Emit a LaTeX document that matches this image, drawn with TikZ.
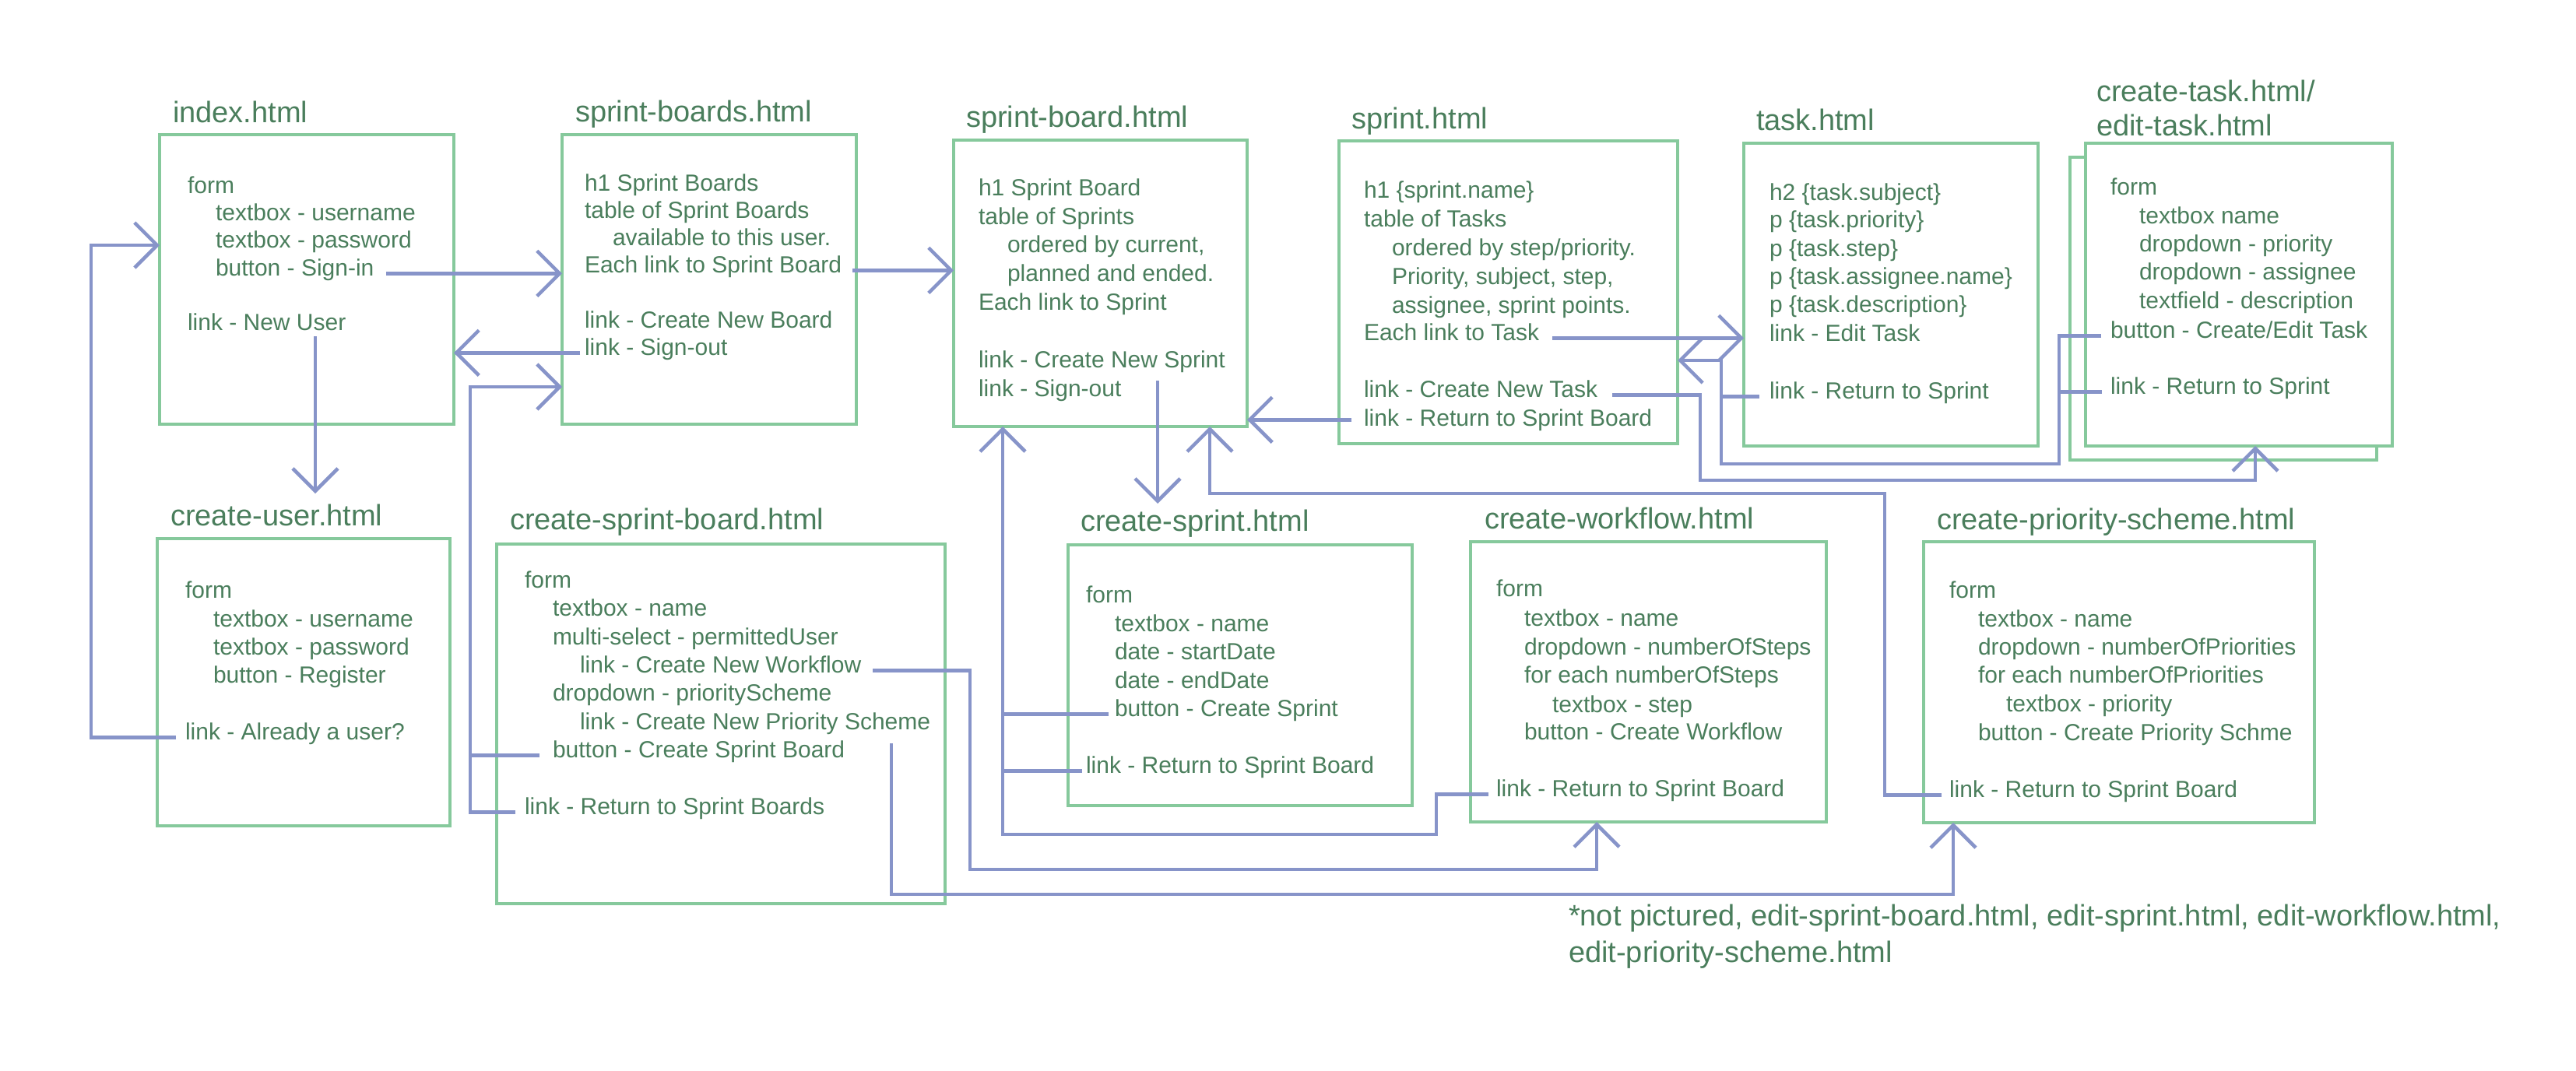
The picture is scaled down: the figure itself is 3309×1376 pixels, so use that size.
\documentclass[tikz,border=0pt]{standalone}
\usepackage{fontspec}
\setmainfont{Liberation Sans}
\usetikzlibrary{arrows.meta}
\definecolor{txtc}{HTML}{4A7E5C}
\definecolor{boxc}{HTML}{86C99C}
\definecolor{arrc}{HTML}{8794C9}
\tikzset{
  txt/.style={anchor=base west, inner sep=0pt, outer sep=0pt, text=txtc, font=\fontsize{30}{36}\selectfont},
  ttl/.style={anchor=base west, inner sep=0pt, outer sep=0pt, text=txtc, font=\fontsize{38}{45}\selectfont},
  pagebox/.style={draw=boxc, line width=4pt, fill=white, inner sep=0pt, outer sep=0pt, anchor=north west},
  ln/.style={draw=arrc, line width=4.5pt},
  arr/.style={ln, -{Straight Barb[length=29pt,width=58pt]}},
}
\begin{document}
\begin{tikzpicture}[x=1pt,y=-1pt]
\useasboundingbox (0,0) rectangle (3309,1376);
\fill[white] (0,0) rectangle (3309,1376);

% ---------- boxes ----------
\node[pagebox, minimum width=378pt, minimum height=372pt] (idxbox) at (205,173) {};
\node[pagebox, minimum width=378pt, minimum height=372pt] (sbsbox) at (722,173) {};
\node[pagebox, minimum width=377pt, minimum height=368pt] (sbbox) at (1225,180) {};
\node[pagebox, minimum width=435pt, minimum height=389pt] (spbox) at (1720,181) {};
\node[pagebox, minimum width=378pt, minimum height=389pt] (taskbox) at (2240,184) {};
\node[pagebox, minimum width=394pt, minimum height=389pt] (ctback) at (2659,202) {};
\node[pagebox, minimum width=394pt, minimum height=389pt] (ctbox) at (2679,184) {};
\node[pagebox, minimum width=376pt, minimum height=369pt] (cubox) at (202,692) {};
\node[pagebox, minimum width=576pt, minimum height=462pt] (csbbox) at (638,699) {};
\node[pagebox, minimum width=442pt, minimum height=335pt] (csbox) at (1372,700) {};
\node[pagebox, minimum width=457pt, minimum height=360pt] (cwbox) at (1889,696) {};
\node[pagebox, minimum width=502pt, minimum height=361pt] (cpsbox) at (2471,696) {};

% ---------- titles ----------
\node[ttl] (tidx) at (222,157) {index.html};
\node[ttl] (tsbs) at (739,156) {sprint-boards.html};
\node[ttl] (tsb) at (1241,163) {sprint-board.html};
\node[ttl] (tsp) at (1736,165) {sprint.html};
\node[ttl] (ttask) at (2256,167) {task.html};
\node[ttl] (tcta) at (2693,130) {create-task.html/};
\node[ttl] (tctb) at (2693,174) {edit-task.html};
\node[ttl] (tcu) at (219,675) {create-user.html};
\node[ttl] (tcsb) at (655,680) {create-sprint-board.html};
\node[ttl] (tcs) at (1388,682) {create-sprint.html};
\node[ttl] (tcw) at (1907,679) {create-workflow.html};
\node[ttl] (tcps) at (2488,680) {create-priority-scheme.html};
\node[ttl] (notea) at (2015,1189) {*not pictured, edit-sprint-board.html, edit-sprint.html, edit-workflow.html,};
\node[ttl] (noteb) at (2015,1236) {edit-priority-scheme.html};

% ---------- index ----------
\node[txt] (idxform) at (241,248) {form};
\node[txt] (idxuser) at (277,283) {textbox - username};
\node[txt] (idxpass) at (277,318) {textbox - password};
\node[txt] (signin) at (277,354) {button - Sign-in};
\node[txt] (newuser) at (241,424) {link - New User};

% ---------- sprint-boards ----------
\node[txt] (sbsh) at (751,245) {h1 Sprint Boards};
\node[txt] (sbstab) at (751,280) {table of Sprint Boards};
\node[txt] (sbsavail) at (787,315) {available to this user.};
\node[txt] (eachsb) at (751,350) {Each link to Sprint Board};
\node[txt] (sbsnew) at (751,421) {link - Create New Board};
\node[txt] (sbsout) at (751,456) {link - Sign-out};

% ---------- sprint-board ----------
\node[txt] (sbh) at (1257,251) {h1 Sprint Board};
\node[txt] (sbtab) at (1257,288) {table of Sprints};
\node[txt] (sbord) at (1294,324) {ordered by current,};
\node[txt] (sbplan) at (1294,361) {planned and ended.};
\node[txt] (eachs) at (1257,398) {Each link to Sprint};
\node[txt] (sbnew) at (1257,472) {link - Create New Sprint};
\node[txt] (sbout) at (1257,509) {link - Sign-out};

% ---------- sprint ----------
\node[txt] (sph) at (1752,254) {h1 \{sprint.name\}};
\node[txt] (sptab) at (1752,291) {table of Tasks};
\node[txt] (spord) at (1788,328) {ordered by step/priority.};
\node[txt] (spprio) at (1788,365) {Priority, subject, step,};
\node[txt] (spass) at (1788,402) {assignee, sprint points.};
\node[txt] (eachtask) at (1752,437) {Each link to Task};
\node[txt] (cnt) at (1752,510) {link - Create New Task};
\node[txt] (spret) at (1752,547) {link - Return to Sprint Board};

% ---------- task ----------
\node[txt] (tksub) at (2273,257) {h2 \{task.subject\}};
\node[txt] (tkprio) at (2273,292) {p \{task.priority\}};
\node[txt] (tkstep) at (2273,329) {p \{task.step\}};
\node[txt] (tkass) at (2273,365) {p \{task.assignee.name\}};
\node[txt] (tkdesc) at (2273,401) {p \{task.description\}};
\node[txt] (tkedit) at (2273,438) {link - Edit Task};
\node[txt] (taskret) at (2273,512) {link - Return to Sprint};

% ---------- create-task ----------
\node[txt] (ctform) at (2711,250) {form};
\node[txt] (ctname) at (2748,287) {textbox name};
\node[txt] (ctprio) at (2748,323) {dropdown - priority};
\node[txt] (ctass) at (2748,359) {dropdown - assignee};
\node[txt] (ctdesc) at (2748,396) {textfield - description};
\node[txt] (ctbtn) at (2711,434) {button - Create/Edit Task};
\node[txt] (ctret) at (2711,506) {link - Return to Sprint};

% ---------- create-user ----------
\node[txt] (cuform) at (238,768) {form};
\node[txt] (cuuser) at (274,805) {textbox - username};
\node[txt] (cupass) at (274,841) {textbox - password};
\node[txt] (cureg) at (274,877) {button - Register};
\node[txt] (already) at (238,950) {link - Already a user?};

% ---------- create-sprint-board ----------
\node[txt] (csbform) at (674,755) {form};
\node[txt] (csbname) at (710,791) {textbox - name};
\node[txt] (csbmulti) at (710,828) {multi-select - permittedUser};
\node[txt] (cnw) at (745,864) {link - Create New Workflow};
\node[txt] (csbdrop) at (710,900) {dropdown - priorityScheme};
\node[txt] (cnps) at (745,937) {link - Create New Priority Scheme};
\node[txt] (csbbtn) at (710,973) {button - Create Sprint Board};
\node[txt] (retsbs) at (674,1046) {link - Return to Sprint Boards};

% ---------- create-sprint ----------
\node[txt] (csform) at (1395,774) {form};
\node[txt] (csname) at (1432,811) {textbox - name};
\node[txt] (csstart) at (1432,847) {date - startDate};
\node[txt] (csend) at (1432,884) {date - endDate};
\node[txt] (csbtn) at (1432,920) {button - Create Sprint};
\node[txt] (csret) at (1395,993) {link - Return to Sprint Board};

% ---------- create-workflow ----------
\node[txt] (cwform) at (1922,766) {form};
\node[txt] (cwname) at (1958,804) {textbox - name};
\node[txt] (cwdrop) at (1958,841) {dropdown - numberOfSteps};
\node[txt] (cweach) at (1958,877) {for each numberOfSteps};
\node[txt] (cwstep) at (1994,915) {textbox - step};
\node[txt] (cwbtn) at (1958,950) {button - Create Workflow};
\node[txt] (cwret) at (1922,1023) {link - Return to Sprint Board};

% ---------- create-priority-scheme ----------
\node[txt] (cpsform) at (2504,768) {form};
\node[txt] (cpsname) at (2541,805) {textbox - name};
\node[txt] (cpsdrop) at (2541,841) {dropdown - numberOfPriorities};
\node[txt] (cpseach) at (2541,877) {for each numberOfPriorities};
\node[txt] (cpsprio) at (2577,914) {textbox - priority};
\node[txt] (cpsbtn) at (2541,951) {button - Create Priority Schme};
\node[txt] (cpsret) at (2504,1024) {link - Return to Sprint Board};

% ---------- bend points ----------
\coordinate (bendA) at (117,315);
\coordinate (bendB) at (604,497);
\coordinate (bendC) at (1246,1117);
\coordinate (cwin) at (2051,1117);
\coordinate (bendD) at (1145,1149);
\coordinate (cpsin) at (2509,1149);
\coordinate (bendE) at (1288,1072);
\coordinate (bendF) at (1845,1072);
\coordinate (bendG) at (2421,634);
\coordinate (bendH) at (1554,634);
\coordinate (bendI) at (2211,596);
\coordinate (bendJ) at (2645,596);
\coordinate (bendK) at (2211,463);
\coordinate (bendL) at (2184,617);
\coordinate (bendM) at (2897,617);

% ---------- connectors ----------
\draw[arr] ([xshift=16pt]signin.mid east) -- (signin.mid east -| sbsbox.west);
\draw[arr] ([xshift=14pt]eachsb.mid east) -- (eachsb.mid east -| sbbox.west);
\draw[arr] ([xshift=-6pt]sbsout.mid west) -- (sbsout.mid west -| idxbox.east);
\draw[arr] ([xshift=164pt,yshift=-8pt]newuser.base west) -- ++(0,202);
\draw[arr] ([xshift=-12pt]already.mid west) -| (bendA) -- (bendA -| idxbox.west);
\draw[arr] ([xshift=-12pt]retsbs.mid west) -| (bendB) -- (bendB -| sbsbox.west);
\draw[ln] ([xshift=-17pt]csbbtn.mid west) -- (csbbtn.mid west -| bendB);
\draw[arr] ([xshift=15pt]cnw.mid east) -| (bendC) -- (cwin) -- (cwin |- cwbox.south);
\draw[arr] ([xshift=400pt,yshift=-18pt]cnps.base west) -- (bendD) -- (cpsin) -- (cpsin |- cpsbox.south);
\draw[arr] ([xshift=230pt,yshift=20pt]sbout.base west) -- ++(0,158);
\draw[arr] ([xshift=-10pt]cwret.mid west) -| (bendF) -- (bendE) -- (bendE |- sbbox.south);
\draw[ln] ([xshift=-8pt]csbtn.mid west) -- (csbtn.mid west -| bendE);
\draw[ln] ([xshift=-5pt]csret.mid west) -- (csret.mid west -| bendE);
\draw[arr] ([xshift=-10pt]cpsret.mid west) -| (bendG) -- (bendH) -- (bendH |- sbbox.south);
\draw[arr] ([xshift=-16pt,yshift=5pt]spret.mid west) -- ([yshift=5pt]spret.mid west -| sbbox.east);
\draw[arr] ([xshift=17pt]eachtask.mid east) -- (eachtask.mid east -| taskbox.west);
\draw[arr] ([xshift=-12pt]ctbtn.mid west) -| (bendJ) -- (bendI) -- (bendK) -- (bendK -| spbox.east);
\draw[ln] ([xshift=-11pt]ctret.mid west) -- (ctret.mid west -| bendJ);
\draw[ln] ([xshift=-13pt]taskret.mid west) -- (taskret.mid west -| bendI);
\draw[arr] ([xshift=19pt]cnt.mid east) -| (bendL) -- (bendM) -- (bendM |- ctbox.south);
\end{tikzpicture}
\end{document}
